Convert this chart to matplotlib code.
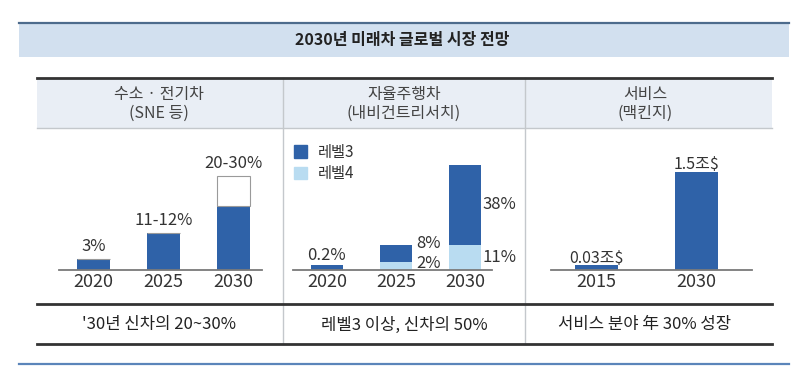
import matplotlib
matplotlib.use('Agg')
import matplotlib.pyplot as plt
from matplotlib.patches import Rectangle, Patch

plt.rcParams['font.family'] = ['Noto Sans CJK KR', 'DejaVu Sans']

# ---------------- data ----------------
title = '2030년 미래차 글로벌 시장 전망'
headers = [('수소 · 전기차', '(SNE 등)'),
           ('자율주행차', '(내비건트리서치)'),
           ('서비스', '(맥킨지)')]
footers = ["'30년 신차의 20~30%", '레벨3 이상, 신차의 50%', '서비스 분야 年 30% 성장']

# panel 1 : hydrogen / electric share (%)
ev_years = ['2020', '2025', '2030']
ev_low = [3.5, 11.7, 20.3]
ev_range = [0, 0, 9.5]
ev_labels = ['3%', '11-12%', '20-30%']

# panel 2 : autonomous driving share (%)
ad_years = ['2020', '2025', '2030']
ad_lv4 = [0, 3.6, 11.4]
ad_lv3 = [2.3, 7.7, 36.4]
ad_lv3_labels = ['0.2%', '8%', '38%']
ad_lv4_labels = ['', '2%', '11%']

# panel 3 : mobility services (trillion $)
sv_years = ['2015', '2030']
sv_vals = [0.07, 1.5]
sv_labels = ['0.03조$', '1.5조$']

DARK = '#2f62a8'
LIGHT = '#b9dcf1'
TXT = '#333333'
LBL = 12

W, H = 800, 377
fig = plt.figure(figsize=(W / 100, H / 100), dpi=100)

# ---------------- frame / table ----------------
bg = fig.add_axes([0, 0, 1, 1])
bg.set_xlim(0, W)
bg.set_ylim(H, 0)
bg.axis('off')

bg.add_patch(Rectangle((19, 23), 770, 34, color='#d2e0ef', lw=0))
bg.plot([19, 789], [23, 23], color='#4d6b8c', lw=1.6)
bg.text(402, 40, title, ha='center', va='center', fontsize=11.5,
        fontweight='bold', color='#222222')

bg.add_patch(Rectangle((37, 78), 735, 50, color='#e9eef5', lw=0))
bg.plot([37, 772], [128, 128], color='#c4c8cc', lw=1)
for xd in (283, 525):
    bg.plot([xd, xd], [78, 344], color='#c4c8cc', lw=1)
bg.plot([37, 772], [77.5, 77.5], color='#333333', lw=2)
bg.plot([37, 772], [304, 304], color='#333333', lw=2)
bg.plot([37, 772], [344, 344], color='#333333', lw=2)
bg.plot([19, 789], [364, 364], color='#5b85ba', lw=1.6)

hx = [159, 404, 645]
for cx, (l1, l2) in zip(hx, headers):
    bg.text(cx, 95, l1, ha='center', va='center', fontsize=11.5, color='#444444')
    bg.text(cx, 113, l2, ha='center', va='center', fontsize=11.5, color='#444444')
for cx, t in zip(hx, footers):
    bg.text(cx, 325, t, ha='center', va='center', fontsize=12, color='#222222')


def px_axes(x0, x1, ytop, ybot):
    return fig.add_axes([x0 / W, 1 - ybot / H, (x1 - x0) / W, (ybot - ytop) / H])


def style(ax, years, xlim, ymax):
    ax.set_xlim(*xlim)
    ax.set_ylim(0, ymax)
    ax.axhline(0, color='#7a7a7a', lw=1.3, clip_on=False, zorder=5)
    ax.set_xticks(range(len(years)), years)
    ax.tick_params(axis='x', length=0, pad=2, labelsize=13, labelcolor=TXT)
    ax.set_yticks([])
    for s in ax.spines.values():
        s.set_visible(False)
    ax.patch.set_alpha(0)


# ---------------- panel 1 ----------------
ax1 = px_axes(59, 262, 135, 270)
style(ax1, ev_years, (-0.49, 2.41), 135 / 3.15)
x1 = range(len(ev_years))
ax1.bar(x1, ev_low, width=0.47, color=DARK)
ax1.bar(x1, ev_range, width=0.47, bottom=ev_low, color='white',
        edgecolor='#9a9a9a', lw=0.8)
for i, lab in enumerate(ev_labels):
    ax1.annotate(lab, (i, ev_low[i] + ev_range[i]), xytext=(0, 3),
                 textcoords='offset points', ha='center', va='bottom',
                 fontsize=LBL, color=TXT)

# ---------------- panel 2 ----------------
ax2 = px_axes(293, 492, 135, 270)
style(ax2, ad_years, (-0.49, 2.39), 135 / 2.2)
x2 = range(len(ad_years))
ax2.bar(x2, ad_lv4, width=0.46, color=LIGHT, label='레벨4')
ax2.bar(x2, ad_lv3, width=0.46, bottom=ad_lv4, color=DARK, label='레벨3')
ax2.annotate(ad_lv3_labels[0], (0, ad_lv3[0]), xytext=(0, 1),
             textcoords='offset points', ha='center', va='bottom',
             fontsize=LBL, color=TXT)
# 2025 : level3 label near top, 2030 : labels at segment middle
ax2.annotate(ad_lv3_labels[1], (1 + 0.23, ad_lv4[1] + ad_lv3[1]), xytext=(3, 1),
             textcoords='offset points', ha='left', va='center',
             fontsize=LBL, color=TXT)
ax2.annotate(ad_lv4_labels[1], (1 + 0.23, ad_lv4[1] / 2), xytext=(3, 2),
             textcoords='offset points', ha='left', va='center',
             fontsize=LBL, color=TXT)
ax2.annotate(ad_lv3_labels[2], (2 + 0.23, ad_lv4[2] + ad_lv3[2] / 2), xytext=(1, 0),
             textcoords='offset points', ha='left', va='center',
             fontsize=LBL, color=TXT)
ax2.annotate(ad_lv4_labels[2], (2 + 0.23, ad_lv4[2] / 2), xytext=(1, 0),
             textcoords='offset points', ha='left', va='center',
             fontsize=LBL, color=TXT)
handles = [Patch(color=DARK, label='레벨3'), Patch(color=LIGHT, label='레벨4')]
fig.legend(handles=handles, loc='upper left', bbox_to_anchor=(286 / W, 1 - 136 / H),
           frameon=False, fontsize=11, handlelength=0.9, handleheight=0.9,
           handletextpad=0.7, labelspacing=0.3, borderpad=0, labelcolor=TXT)

# ---------------- panel 3 ----------------
ax3 = px_axes(551, 752, 135, 270)
style(ax3, sv_years, (-0.455, 1.555), 135 / 65.3)
x3 = range(len(sv_years))
ax3.bar(x3, sv_vals, width=0.43, color=DARK)
for i, lab in enumerate(sv_labels):
    ax3.annotate(lab, (i, sv_vals[i]), xytext=(0, -1),
                 textcoords='offset points', ha='center', va='bottom',
                 fontsize=11.5, color=TXT)

fig.savefig('out.png', dpi=100)
